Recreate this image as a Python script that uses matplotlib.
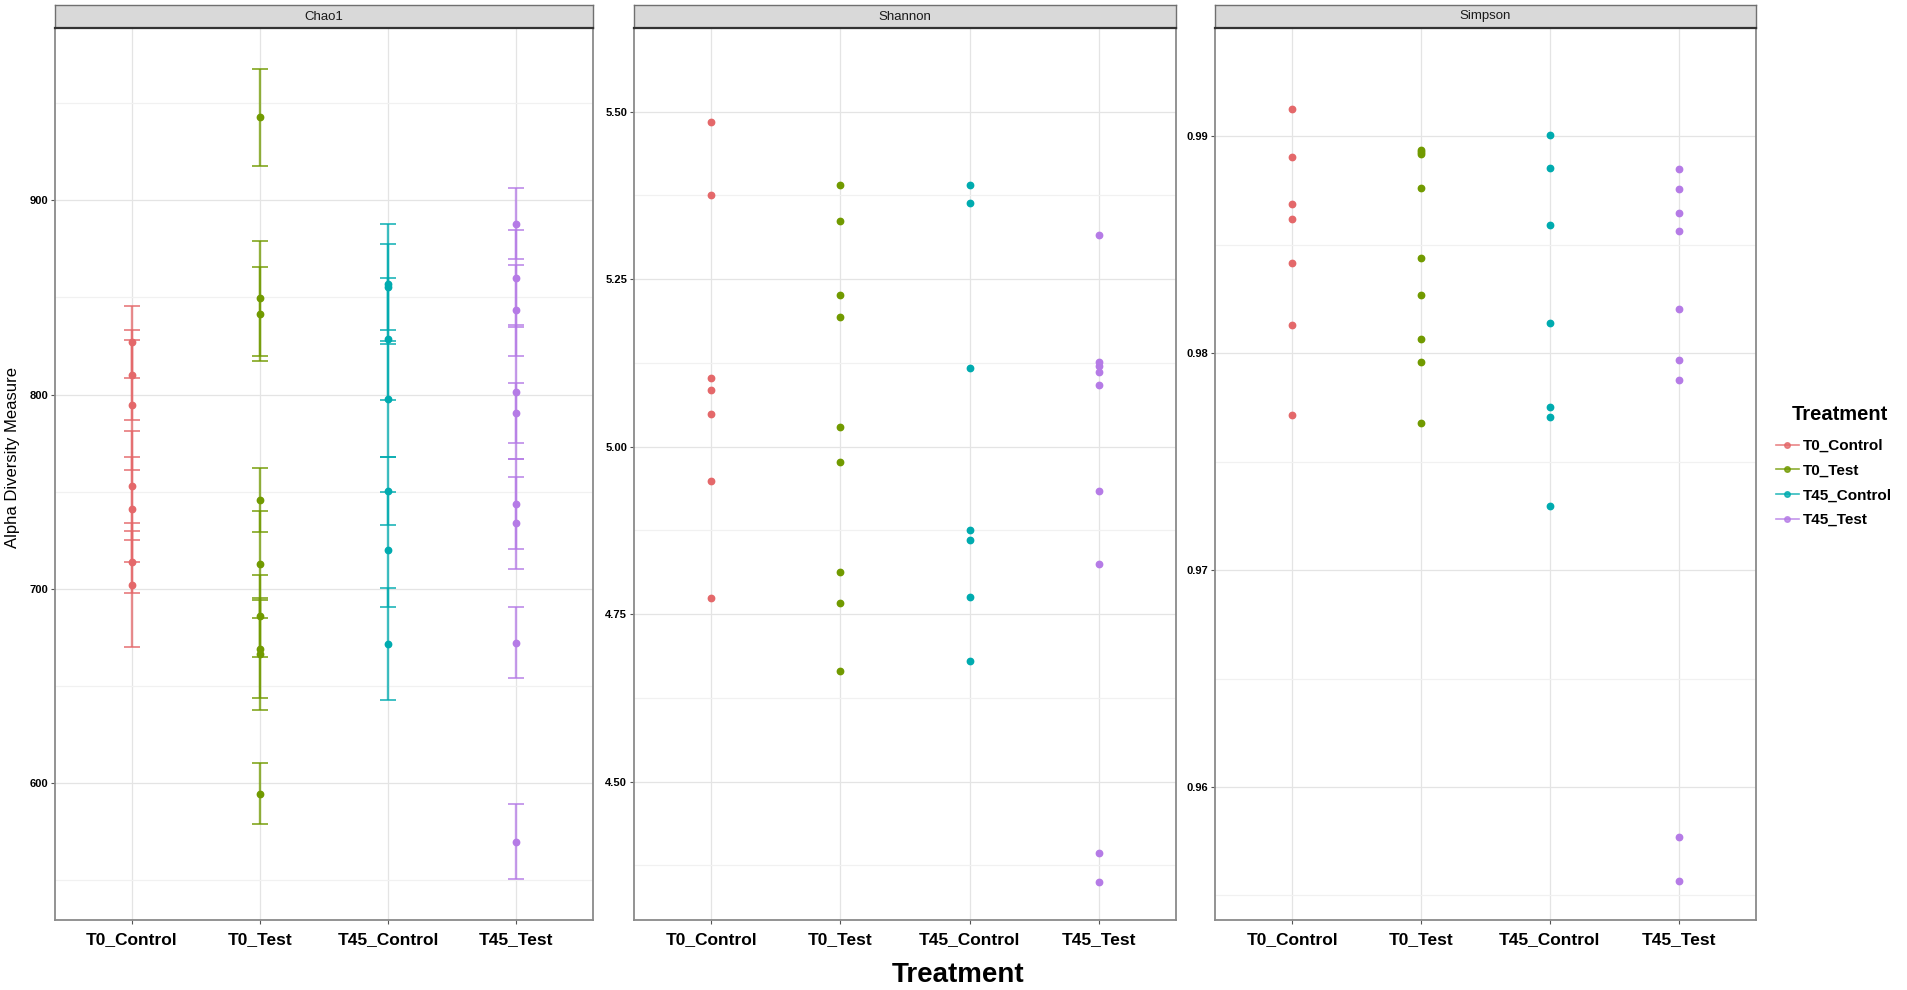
import matplotlib.pyplot as plt
from matplotlib.lines import Line2D
import numpy as np

plt.rcParams['font.family'] = ['Liberation Sans', 'DejaVu Sans']

groups = ["T0_Control", "T0_Test", "T45_Control", "T45_Test"]
group_colors = ["#E4686A", "#719A00", "#00ABAF", "#B57BE6"]

# Chao1 estimates and their standard errors, per group
chao1_t0_control = [827.0, 810.0, 794.5, 753.0, 741.0, 714.0, 702.0]
chao1_t0_control_se = [18.5, 23.0, 33.5, 28.0, 27.0, 16.0, 32.0]
chao1_t0_test = [942.9, 849.7, 841.7, 745.8, 712.5, 686.0, 669.0, 666.5, 594.5]
chao1_t0_test_se = [25.0, 29.6, 24.2, 16.4, 27.6, 21.0, 25.0, 29.0, 15.8]
chao1_t45_control = [856.8, 855.3, 828.6, 797.7, 750.3, 720.2, 671.6]
chao1_t45_control_se = [30.8, 22.2, 31.6, 29.8, 17.7, 29.6, 28.7]
chao1_t45_test = [888.0, 859.8, 843.3, 801.3, 790.7, 743.6, 734.0, 672.2, 569.8]
chao1_t45_test_se = [18.4, 25.0, 23.3, 34.7, 15.4, 23.0, 23.7, 18.3, 19.5]

# Shannon index per group
shannon_t0_control = [5.485, 5.376, 5.103, 5.085, 5.049, 4.948, 4.774]
shannon_t0_test = [5.390, 5.337, 5.226, 5.193, 5.030, 4.977, 4.813, 4.767, 4.665]
shannon_t45_control = [5.391, 5.364, 5.118, 4.875, 4.860, 4.776, 4.680]
shannon_t45_test = [5.316, 5.126, 5.120, 5.112, 5.092, 4.934, 4.825, 4.393, 4.350]

# Simpson index per group
simpson_t0_control = [0.99127, 0.98903, 0.98690, 0.98618, 0.98416, 0.98130, 0.97717]
simpson_t0_test = [0.98936, 0.98928, 0.98920, 0.98762, 0.98438, 0.98269, 0.98064, 0.97958, 0.97679]
simpson_t45_control = [0.99008, 0.98853, 0.98593, 0.98141, 0.97753, 0.97706, 0.97296]
simpson_t45_test = [0.98848, 0.98756, 0.98648, 0.98565, 0.98205, 0.97970, 0.97878, 0.95770, 0.95565]

chao1_ticks = [600, 700, 800, 900]
shannon_ticks = [4.50, 4.75, 5.00, 5.25, 5.50]
simpson_ticks = [0.96, 0.97, 0.98, 0.99]

panels = [
    ("Chao1", [chao1_t0_control, chao1_t0_test, chao1_t45_control, chao1_t45_test],
     [chao1_t0_control_se, chao1_t0_test_se, chao1_t45_control_se, chao1_t45_test_se],
     chao1_ticks, "%d"),
    ("Shannon", [shannon_t0_control, shannon_t0_test, shannon_t45_control, shannon_t45_test],
     None, shannon_ticks, "%.2f"),
    ("Simpson", [simpson_t0_control, simpson_t0_test, simpson_t45_control, simpson_t45_test],
     None, simpson_ticks, "%.2f"),
]

W, H = 1907, 990
fig = plt.figure(figsize=(W / 100, H / 100), dpi=100)
fig.patch.set_facecolor("white")

# pixel boxes of each panel (left, right)
panel_x = [(55, 593), (634, 1176), (1215, 1756)]
plot_top, plot_bottom = 28, 920
strip_top = 5

for (name, values, errors, ticks, fmt), (x0, x1) in zip(panels, panel_x):
    ax = fig.add_axes([x0 / W, (H - plot_bottom) / H, (x1 - x0) / W, (plot_bottom - plot_top) / H])
    for i, (vals, col) in enumerate(zip(values, group_colors)):
        xs = np.full(len(vals), i + 1.0)
        if errors is not None:
            ax.errorbar(xs, vals, yerr=errors[i], fmt="none", ecolor=col,
                        elinewidth=1.7, capsize=6, capthick=1.4, alpha=0.75, zorder=3)
        ax.plot(xs, vals, "o", color=col, markersize=4.6, zorder=4)

    # ggplot-like expansion
    ax.set_xlim(0.4, 4.6)
    ax.relim()
    ax.autoscale_view()
    lo, hi = ax.dataLim.y0, ax.dataLim.y1
    pad = (hi - lo) * 0.05
    ax.set_ylim(lo - pad, hi + pad)

    ax.set_xticks(range(1, 5))
    ax.set_xticklabels(groups, fontsize=12.5, fontweight="bold")
    ax.set_yticks(ticks)
    ax.set_yticklabels([fmt % t for t in ticks], fontsize=8, fontweight="bold")
    step = ticks[1] - ticks[0]
    minor = np.arange(ticks[0] - step / 2, ticks[-1] + step, step)
    ax.set_yticks(minor, minor=True)
    ax.tick_params(axis="y", which="minor", length=0)
    ax.tick_params(axis="both", which="major", length=3, width=0.8, color="#555555", pad=2)
    ax.tick_params(axis="x", pad=6)

    ax.grid(True, which="major", color="#e4e4e4", linewidth=0.9)
    ax.grid(True, which="minor", axis="y", color="#f1f1f1", linewidth=0.9)
    ax.set_axisbelow(True)
    for sp in ax.spines.values():
        sp.set_color("#8a8a8a")
        sp.set_linewidth(1.3)

    # facet strip
    sax = fig.add_axes([x0 / W, (H - plot_top) / H, (x1 - x0) / W, (plot_top - strip_top) / H])
    sax.set_facecolor("#d9d9d9")
    sax.set_xticks([])
    sax.set_yticks([])
    for sp in sax.spines.values():
        sp.set_color("#707070")
        sp.set_linewidth(1.0)
    sax.spines["bottom"].set_color("#333333")
    sax.spines["bottom"].set_linewidth(1.6)
    sax.text(0.5, 0.5, name, ha="center", va="center", fontsize=9.5, color="#1a1a1a")

fig.text(13 / W, 1 - 457 / H, "Alpha Diversity Measure", rotation=90,
         ha="center", va="center", fontsize=12)
fig.text(958 / W, 1 - 975 / H, "Treatment", ha="center", va="center",
         fontsize=20, fontweight="bold")

# legend: title placed on its own, entries below it
fig.text(1792 / W, 1 - 415 / H, "Treatment", ha="left", va="center",
         fontsize=14.5, fontweight="bold")
handles = [Line2D([0], [0], color=c, marker="o", markersize=4, linewidth=1.2, alpha=0.8)
           for c in group_colors]
fig.legend(handles, groups, loc="upper left",
           bbox_to_anchor=(1776 / W, 1 - 439 / H), frameon=False,
           prop={"size": 11, "weight": "bold"}, handlelength=1.5,
           handletextpad=0.25, labelspacing=0.7, borderpad=0, borderaxespad=0)

fig.savefig("out.png", dpi=100, facecolor="white")
